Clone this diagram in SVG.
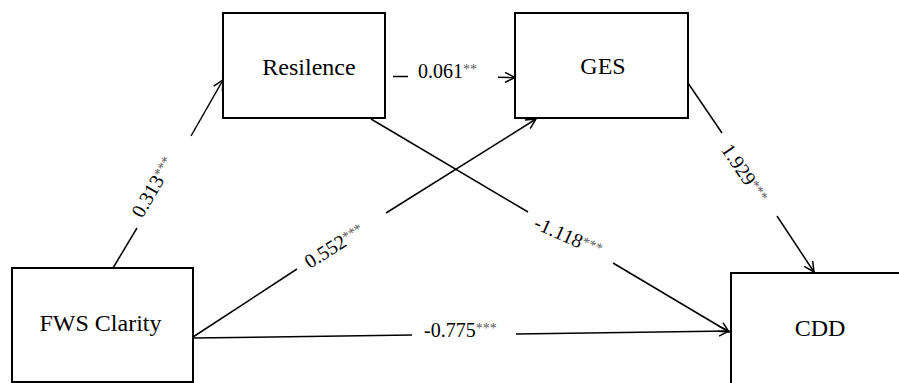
<svg xmlns="http://www.w3.org/2000/svg" width="899" height="383" viewBox="0 0 899 383">
<defs>
<style>
.box{fill:#fff;stroke:#000;stroke-width:2}
.node{font-family:"Liberation Serif","Times New Roman",serif;font-size:24px;fill:#000;text-anchor:middle}
.lbl{font-family:"Liberation Serif","Times New Roman",serif;font-size:20px;fill:#000}
.st{font-size:14px;fill:#595959}
.c{stroke:#000;stroke-width:1.5;fill:none}
</style>
<marker id="ah" viewBox="0 0 12 12" refX="11" refY="6" markerWidth="12" markerHeight="12" markerUnits="userSpaceOnUse" orient="auto">
<path d="M1,1 L11,6 L1,11" fill="none" stroke="#000" stroke-width="1.5"/>
</marker>
</defs>
<rect width="899" height="383" fill="#fff"/>
<g id="connectors">
<line class="c" x1="113" y1="268" x2="137" y2="228"/>
<line class="c" x1="191" y1="136" x2="223" y2="80" marker-end="url(#ah)"/>
<line class="c" x1="393" y1="76.5" x2="408" y2="76.6"/>
<line class="c" x1="498" y1="77.3" x2="515" y2="77.5" marker-end="url(#ah)"/>
<line class="c" x1="193" y1="337" x2="297" y2="269"/>
<line class="c" x1="386" y1="213" x2="536" y2="119" marker-end="url(#ah)"/>
<line class="c" x1="371" y1="119" x2="528" y2="212"/>
<line class="c" x1="613" y1="263" x2="729" y2="332" marker-end="url(#ah)"/>
<line class="c" x1="688" y1="83" x2="722" y2="133"/>
<line class="c" x1="777" y1="216" x2="814" y2="272" marker-end="url(#ah)"/>
<line class="c" x1="193" y1="338" x2="412" y2="335"/>
<line class="c" x1="516" y1="334" x2="729" y2="331" marker-end="url(#ah)"/>
<text class="lbl" x="418" y="78">0.061<tspan class="st" dy="-4">**</tspan></text>
<text class="lbl" x="424" y="337">-0.775<tspan class="st" dy="-4">***</tspan></text>
<text class="lbl" text-anchor="middle" transform="translate(153.5,187.5) rotate(-60)" x="0" y="6">0.313<tspan class="st" dy="-4">***</tspan></text>
<text class="lbl" text-anchor="middle" transform="translate(334.5,246.5) rotate(-32)" x="0" y="6">0.552<tspan class="st" dy="-4">***</tspan></text>
<text class="lbl" text-anchor="middle" transform="translate(568,237) rotate(24)" x="0" y="6">-1.118<tspan class="st" dy="-4">***</tspan></text>
<text class="lbl" text-anchor="middle" transform="translate(744,173.5) rotate(56)" x="0" y="6">1.929<tspan class="st" dy="-4">***</tspan></text>
</g>
<g id="resilence">
<rect class="box" x="223" y="13" width="162" height="105"/>
<text class="node" x="309" y="75">Resilence</text>
</g>
<g id="ges">
<rect class="box" x="515" y="13" width="173" height="105"/>
<text class="node" x="603" y="74">GES</text>
</g>
<g id="fws">
<rect class="box" x="12" y="268" width="181" height="114"/>
<text class="node" x="100.5" y="331">FWS Clarity</text>
</g>
<g id="cdd">
<rect class="box" x="731" y="273" width="180" height="120"/>
<text class="node" x="820" y="336">CDD</text>
</g>
</svg>
